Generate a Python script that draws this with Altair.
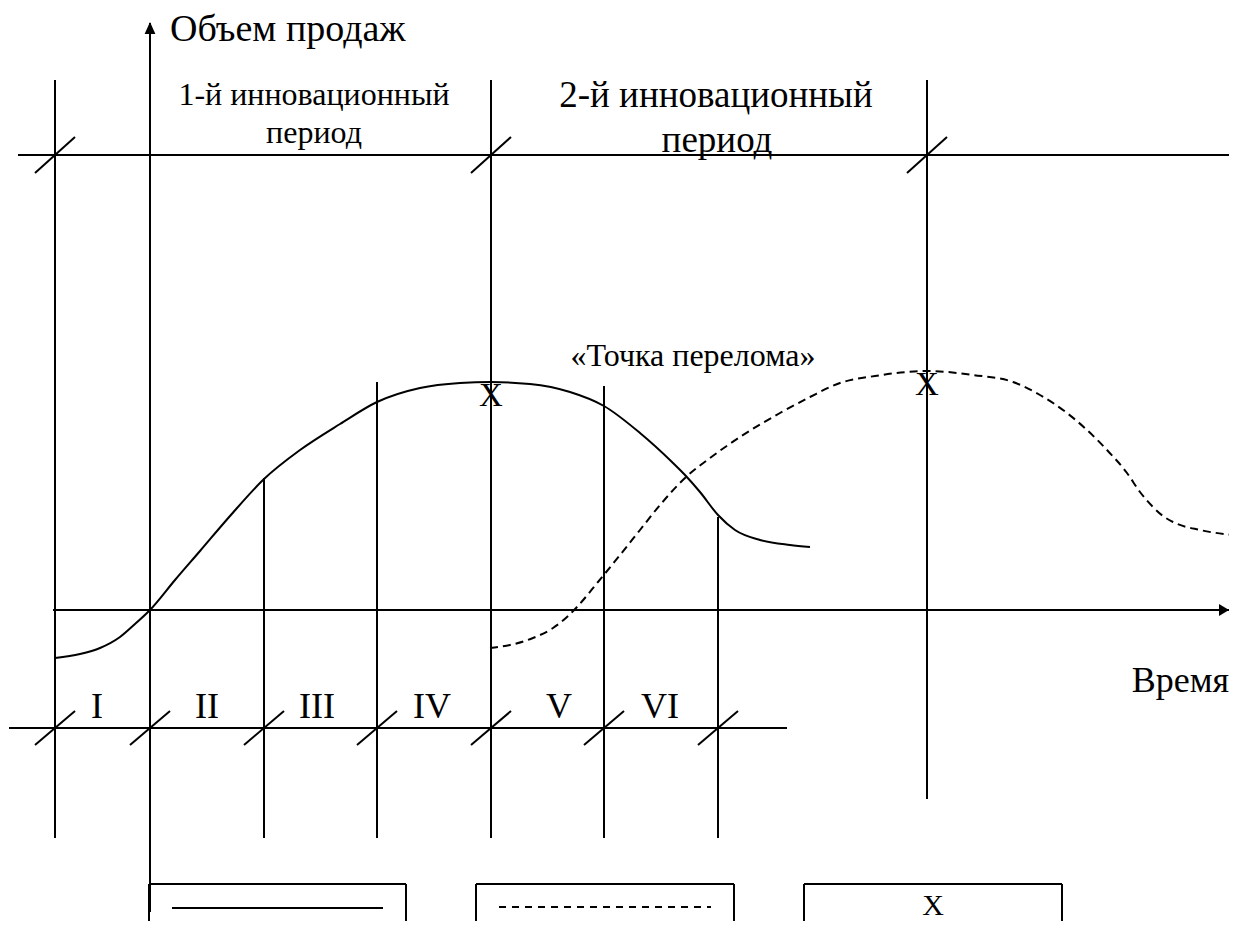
import altair as alt
import pandas as pd

# ---- values (figure units, y grows downward) ----
# stage boundaries (I..VI) on the time axis, and where each boundary line starts
stage_x = [55, 150, 264, 377, 491, 604, 718]
stage_top = [80, 23, 478, 382, 80, 386, 517]
stage_bottom = [838, 912, 838, 838, 838, 838, 838]
# extra boundary of the 2nd innovation period
period2_end_x = 927
period2_end_top = 80
period2_end_bottom = 799

stage_labels = ["I", "II", "III", "IV", "V", "VI"]
stage_label_x = [97, 207, 317, 432, 559, 660]

# horizontal reference lines: (x_start, x_end, y)
top_line = (18, 1229, 155)
time_axis = (53, 1229, 610)
stage_line = (9, 787, 728)

# tick marks (slashes) on the top line and on the stage line
top_ticks_x = [55, 491, 927]
stage_ticks_x = [55, 150, 264, 377, 491, 604, 718]

# sales curve of the 1st innovation (solid)
curve1_x = [55, 80, 100, 120, 135, 150, 175, 200, 230, 264, 300, 340, 377, 420, 460,
            491, 530, 570, 604, 640, 672, 685, 700, 718, 735, 760, 790, 810]
curve1_y = [658, 654, 648, 637, 624, 610, 580, 551, 516, 479, 450, 424, 402, 388, 383,
            382, 384, 392, 406, 433, 462, 475, 492, 515, 530, 540, 545, 547]

# sales curve of the 2nd innovation (dashed)
curve2_x = [490, 510, 533, 553, 567, 577, 598, 620, 640, 660, 685, 710, 740, 780, 810,
            840, 875, 907, 927, 973, 1013, 1040, 1067, 1087, 1107, 1127, 1140, 1153,
            1163, 1173, 1200, 1233]
curve2_y = [648, 645, 638, 628, 617, 607, 582, 555, 530, 505, 478, 458, 437, 413, 397,
            383, 376, 372, 371, 375, 382, 395, 413, 430, 450, 473, 492, 507,
            516, 522, 530, 535]

# "breaking point" markers
mark_x = [491, 927]
mark_y = [406, 395]

# legend boxes: (left, right), top
legend_boxes = [(149, 406), (476, 734), (804, 1062)]
legend_top = 884
legend_bottom = 935

FONT = "Liberation Serif"

# ---- build tables ----
segs = []
for x, t, b in zip(stage_x, stage_top, stage_bottom):
    segs.append((x, t, x, b))
segs.append((period2_end_x, period2_end_top, period2_end_x, period2_end_bottom))
for (x0, x1, y) in (top_line, time_axis, stage_line):
    segs.append((x0, y, x1, y))
for x in top_ticks_x:
    segs.append((x - 20, top_line[2] + 18, x + 20, top_line[2] - 18))
for x in stage_ticks_x:
    segs.append((x - 20, stage_line[2] + 17, x + 20, stage_line[2] - 17))
for (l, r) in legend_boxes:
    segs.append((l, legend_top, r, legend_top))
    segs.append((l, legend_top, l, legend_bottom))
    segs.append((r, legend_top, r, legend_bottom))
segs.append((172, 908, 383, 908))  # legend sample: solid
seg_df = pd.DataFrame(segs, columns=["x", "y", "x2", "y2"])

dash_df = pd.DataFrame([(499, 907, 711, 907)], columns=["x", "y", "x2", "y2"])

c1 = pd.DataFrame({"x": curve1_x, "y": curve1_y})
c2 = pd.DataFrame({"x": curve2_x, "y": curve2_y})

texts = pd.DataFrame([
    ("Объем продаж", 170, 41, 38, "left"),
    ("1-й инновационный", 314, 105, 32, "center"),
    ("период", 314, 143, 32, "center"),
    ("2-й инновационный", 716, 107, 37, "center"),
    ("период", 717, 152, 37, "center"),
    ("«Точка перелома»", 693, 366, 32, "center"),
    ("Время", 1229, 692, 36, "right"),
] + [(lab, x, 718, 36, "center") for lab, x in zip(stage_labels, stage_label_x)]
  + [("X", x, y, 33, "center") for x, y in zip(mark_x, mark_y)]
  + [("X", 933, 915, 30, "center")],
    columns=["t", "x", "y", "size", "align"])

xs = alt.Scale(domain=[8, 1229], nice=False, zero=False)
ys = alt.Scale(domain=[8, 921], nice=False, zero=False, reverse=True)


def X(f):
    return alt.X(f, type="quantitative", scale=xs, axis=None)


def Y(f):
    return alt.Y(f, type="quantitative", scale=ys, axis=None)


rules = alt.Chart(seg_df).mark_rule(color="black", strokeWidth=2).encode(
    x=X("x"), y=Y("y"), x2="x2", y2="y2")
dash_rule = alt.Chart(dash_df).mark_rule(color="black", strokeWidth=2, strokeDash=[7, 6]).encode(
    x=X("x"), y=Y("y"), x2="x2", y2="y2")

line1 = alt.Chart(c1).mark_line(color="black", strokeWidth=2, interpolate="monotone").encode(
    x=X("x"), y=Y("y"))
line2 = alt.Chart(c2).mark_line(color="black", strokeWidth=2, interpolate="monotone",
                                strokeDash=[8, 5]).encode(x=X("x"), y=Y("y"))

arrow_up = alt.Chart(pd.DataFrame({"x": [150], "y": [22]})).mark_point(
    shape="M0,0L0.45,1L-0.45,1Z", filled=True, color="black", opacity=1, size=576,
    strokeWidth=0).encode(x=X("x"), y=Y("y"))
arrow_right = alt.Chart(pd.DataFrame({"x": [1229], "y": [610]})).mark_point(
    shape="M0,0L-1,0.6L-1,-0.6Z", filled=True, color="black", opacity=1, size=400,
    strokeWidth=0).encode(x=X("x"), y=Y("y"))

text_layers = []
for align in ["left", "center", "right"]:
    sub = texts[texts["align"] == align]
    text_layers.append(
        alt.Chart(sub).mark_text(font=FONT, color="black", align=align,
                                 baseline="alphabetic").encode(
            x=X("x"), y=Y("y"), text="t:N",
            size=alt.Size("size:Q", scale=None, legend=None)))

chart = alt.layer(rules, dash_rule, line1, line2, arrow_up, arrow_right, *text_layers).properties(
    width=1221, height=913,
    autosize=alt.AutoSizeParams(type="none"),
    padding=0,
).configure_view(stroke=None)

chart.save("out.html", embed_options={"renderer": "svg", "actions": False})
